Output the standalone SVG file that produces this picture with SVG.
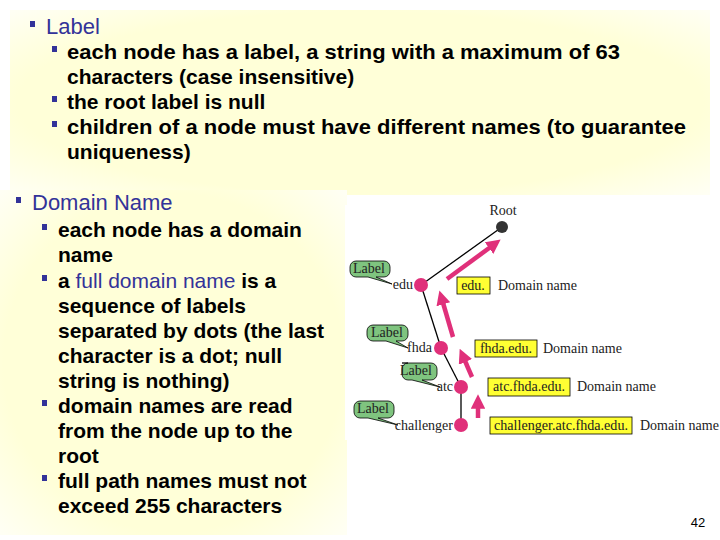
<svg xmlns="http://www.w3.org/2000/svg" width="720" height="540" viewBox="0 0 720 540">
<defs>
<radialGradient id="bg" cx="0.5" cy="0.5" r="0.7"><stop offset="0.7" stop-color="#ffffd8"/><stop offset="1" stop-color="#fffff4"/></radialGradient>
<marker id="ah" viewBox="0 0 10 10" refX="6" refY="5" markerWidth="3.2" markerHeight="3.2" orient="auto"><path d="M0,0L10,5L0,10z" fill="#e0307a"/></marker>
</defs>
<style>
.h{font-family:"Liberation Sans",Arial,sans-serif;font-size:22px;fill:#333399}
.t{font-family:"Liberation Sans",Arial,sans-serif;font-size:21px;font-weight:bold;fill:#000}
.b{fill:#333399}
.s{font-family:"Liberation Serif","Times New Roman",serif;font-size:14px;fill:#222}
.node{fill:#e0307a}
.edge{stroke:#000;stroke-width:1.3}
.arr{stroke:#e0307a;stroke-width:4.5;marker-end:url(#ah)}
.yb{fill:#ffff33;stroke:#000;stroke-width:0.8}
.bub{fill:#7fc47f;stroke:#000;stroke-width:0.8}
</style>
<rect width="720" height="540" fill="#fff"/>
<rect x="10" y="10" width="700" height="185" fill="url(#bg)"/>
<rect x="0" y="190" width="347" height="345" fill="url(#bg)"/>
<rect x="345" y="205" width="375" height="235" fill="#fff"/>
<g id="text1">
<rect class="b" x="30" y="21" width="5" height="6"/><text class="h" x="46" y="34">Label</text>
<rect class="b" x="52" y="46" width="5" height="6"/><text class="t" x="67" y="59" textLength="553" lengthAdjust="spacingAndGlyphs">each node has a label, a string with a maximum of 63</text>
<text class="t" x="67" y="84">characters (case insensitive)</text>
<rect class="b" x="52" y="96" width="5" height="6"/><text class="t" x="67" y="109">the root label is null</text>
<rect class="b" x="52" y="121" width="5" height="6"/><text class="t" x="67" y="134" textLength="619" lengthAdjust="spacingAndGlyphs">children of a node must have different names (to guarantee</text>
<text class="t" x="67" y="159">uniqueness)</text>
</g>
<g id="text2">
<rect class="b" x="16" y="197" width="5" height="6"/><text class="h" x="32" y="210">Domain Name</text>
<rect class="b" x="42" y="224" width="5" height="6"/><text class="t" x="58" y="237">each node has a domain</text>
<text class="t" x="58" y="262">name</text>
<rect class="b" x="42" y="275" width="5" height="6"/><text class="t" x="58" y="288">a <tspan fill="#333399" font-weight="normal">full domain name</tspan> is a</text>
<text class="t" x="58" y="313">sequence of labels</text>
<text class="t" x="58" y="338">separated by dots (the last</text>
<text class="t" x="58" y="363">character is a dot; null</text>
<text class="t" x="58" y="388">string is nothing)</text>
<rect class="b" x="42" y="400" width="5" height="6"/><text class="t" x="58" y="413">domain names are read</text>
<text class="t" x="58" y="438">from the node up to the</text>
<text class="t" x="58" y="463">root</text>
<rect class="b" x="42" y="475" width="5" height="6"/><text class="t" x="58" y="488">full path names must not</text>
<text class="t" x="58" y="513">exceed 255 characters</text>
</g>
<g id="connectors">
<line class="edge" x1="502" y1="227" x2="421" y2="285"/>
<line class="edge" x1="421" y1="285" x2="441" y2="348"/>
<line class="edge" x1="441" y1="348" x2="461" y2="387"/>
<line class="edge" x1="461" y1="387" x2="461" y2="425"/>
<line class="arr" x1="447" y1="279" x2="496" y2="243"/>
<line class="arr" x1="453" y1="337" x2="441" y2="296"/>
<line class="arr" x1="472" y1="377" x2="462" y2="354"/>
<line class="arr" x1="478" y1="418" x2="478" y2="400"/>
</g>
<g id="root"><circle cx="502" cy="227" r="6" fill="#333"/><text class="s" x="503" y="215" text-anchor="middle">Root</text></g>
<g id="edu">
<path class="bub" d="M356,261h28a6,6 0 0 1 6,6v4a6,6 0 0 1 -6,6h-8l16,7l-24,-7h-12a6,6 0 0 1 -6,-6v-4a6,6 0 0 1 6,-6z"/>
<text class="s" x="369" y="273" text-anchor="middle">Label</text>
<text class="s" x="413" y="289" text-anchor="end">edu</text>
<circle class="node" cx="421" cy="285" r="7"/>
<rect class="yb" x="457" y="277" width="33" height="17"/><text class="s" x="473" y="290" text-anchor="middle">edu.</text>
<text class="s" x="498" y="290">Domain name</text>
</g>
<g id="fhda">
<path class="bub" d="M373,325h29a6,6 0 0 1 6,6v4a6,6 0 0 1 -6,6h-6l12,7l-22,-7h-13a6,6 0 0 1 -6,-6v-4a6,6 0 0 1 6,-6z"/>
<text class="s" x="387" y="337" text-anchor="middle">Label</text>
<text class="s" x="432" y="352" text-anchor="end">fhda</text>
<circle class="node" cx="441" cy="348" r="7"/>
<rect class="yb" x="475" y="340" width="62" height="17"/><text class="s" x="506" y="353" text-anchor="middle">fhda.edu.</text>
<text class="s" x="543" y="353">Domain name</text>
</g>
<g id="atc">
<path class="bub" d="M402,363h29a6,6 0 0 1 6,6v5a6,6 0 0 1 -6,6h-9l18,7l-28,-7h-4a6,6 0 0 1 -6,-6v-5a6,6 0 0 1 6,-6z"/>
<text class="s" x="416" y="375" text-anchor="middle">Label</text>
<text class="s" x="453" y="391" text-anchor="end">atc</text>
<circle class="node" cx="461" cy="387" r="7"/>
<rect class="yb" x="488" y="378" width="82" height="18"/><text class="s" x="529" y="391" text-anchor="middle">atc.fhda.edu.</text>
<text class="s" x="577" y="391">Domain name</text>
</g>
<g id="challenger">
<path class="bub" d="M360,401h28a6,6 0 0 1 6,6v5a6,6 0 0 1 -6,6h-10l20,7l-30,-7h-8a6,6 0 0 1 -6,-6v-5a6,6 0 0 1 6,-6z"/>
<text class="s" x="373" y="413" text-anchor="middle">Label</text>
<text class="s" x="453" y="430" text-anchor="end">challenger</text>
<circle class="node" cx="461" cy="425" r="7"/>
<rect class="yb" x="490" y="417" width="142" height="17"/><text class="s" x="561" y="430" text-anchor="middle" textLength="134" lengthAdjust="spacingAndGlyphs">challenger.atc.fhda.edu.</text>
<text class="s" x="640" y="430">Domain name</text>
</g>
<text x="698" y="527" text-anchor="middle" font-family="Liberation Sans,Arial,sans-serif" font-size="13">42</text>
</svg>
